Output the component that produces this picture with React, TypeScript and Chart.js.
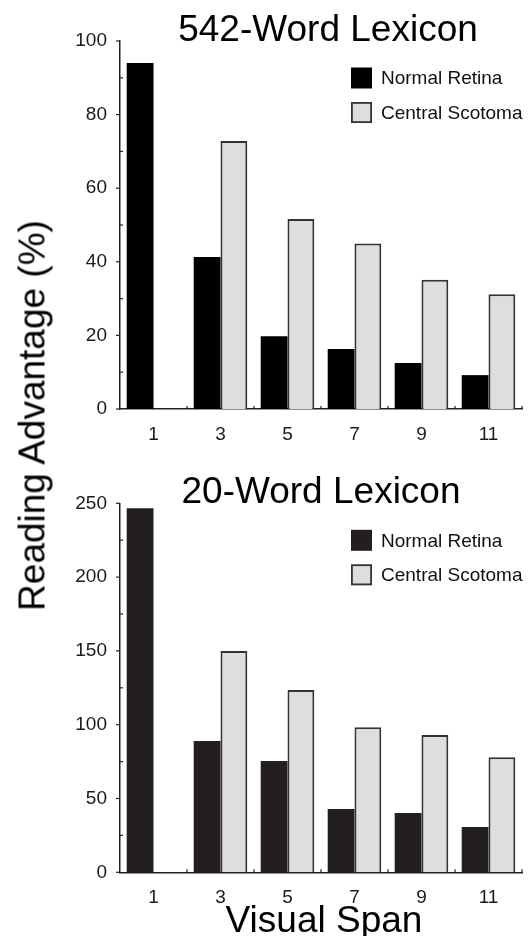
import React, { useEffect, useRef } from 'react';
import { Chart, registerables } from 'chart.js';
Chart.register(...registerables);

const spans = ['1', '3', '5', '7', '9', '11'];
const seriesNames = ['Normal Retina', 'Central Scotoma'];
const normal542 = [94.0, 41.3, 19.8, 16.3, 12.5, 9.2];
const scotoma542 = [null, 72.8, 51.6, 45.0, 35.1, 31.2];
const normal20 = [246.6, 89.0, 75.4, 42.9, 40.2, 30.7];
const scotoma20 = [null, 150.0, 123.5, 98.2, 93.0, 77.9];
const ticks542 = [0, 20, 40, 60, 80, 100];
const ticks20 = [0, 50, 100, 150, 200, 250];
const titles = ['542-Word Lexicon', '20-Word Lexicon'];
const yLabel = 'Reading Advantage (%)';
const xLabel = 'Visual Span';

const FONT = '"Liberation Sans", Arial, Helvetica, sans-serif';

const overlayPlugin = {
  id: 'overlay',
  afterDraw(chart: any, _args: any, opts: any) {
    const { ctx, chartArea, scales } = chart;
    const xs = scales.x;
    const ys = scales.y;
    const L = chartArea.left, R = chartArea.right, T = chartArea.top, B = chartArea.bottom;
    ctx.save();
    ctx.strokeStyle = '#222';
    ctx.lineWidth = 1.2;
    const line = (x1: number, y1: number, x2: number, y2: number) => {
      ctx.beginPath();
      ctx.moveTo(x1, y1);
      ctx.lineTo(x2, y2);
      ctx.stroke();
    };
    const tv = ys.ticks.map((t: any) => t.value);
    tv.forEach((v: number) => {
      const py = ys.getPixelForValue(v);
      line(L - 4, py, L, py);
    });
    for (let i = 0; i < tv.length - 1; i++) {
      const py = ys.getPixelForValue((tv[i] + tv[i + 1]) / 2);
      line(L, py, L + 3, py);
    }
    const n = chart.data.labels.length;
    for (let i = 1; i <= n; i++) {
      const px = i < n ? (xs.getPixelForValue(i - 1) + xs.getPixelForValue(i)) / 2 : R;
      line(px, B, px, B - 3);
    }
    // title
    ctx.fillStyle = '#000';
    ctx.textBaseline = 'alphabetic';
    ctx.textAlign = 'center';
    ctx.font = `37px ${FONT}`;
    ctx.fillText(opts.title, (L + R) / 2 + opts.titleDx, T);
    // legend
    const ds = chart.data.datasets;
    ctx.textAlign = 'left';
    ctx.font = `19px ${FONT}`;
    ds.forEach((d: any, i: number) => {
      const by = T + 26.5 + i * 34.5;
      const bx = R - 171;
      ctx.fillStyle = d.backgroundColor;
      ctx.fillRect(bx, by, 21, 21);
      if (d.borderWidth) {
        ctx.strokeStyle = d.borderColor;
        ctx.lineWidth = 1.8;
        ctx.strokeRect(bx + 0.9, by + 0.9, 19.2, 19.2);
      }
      ctx.fillStyle = '#111';
      ctx.fillText(d.label, R - 141, by + 16.8);
    });
    if (opts.xTitle) {
      ctx.fillStyle = '#000';
      ctx.textAlign = 'center';
      ctx.font = `37px ${FONT}`;
      ctx.fillText(opts.xTitle, (L + R) / 2 + 3, chart.height - 4);
    }
    ctx.restore();
  },
};

type PanelProps = {
  title: string;
  normal: (number | null)[];
  scotoma: (number | null)[];
  ticks: number[];
  normalColor: string;
  height: number;
  padTop: number;
  xHeight: number;
  titleDx: number;
  xTitle?: string;
};

function Panel(p: PanelProps) {
  const ref = useRef<HTMLCanvasElement | null>(null);
  useEffect(() => {
    if (!ref.current) return;
    const chart = new Chart(ref.current, {
      type: 'bar',
      data: {
        labels: spans,
        datasets: [
          {
            label: seriesNames[0],
            data: p.normal,
            backgroundColor: p.normalColor,
            borderWidth: 0,
            categoryPercentage: 0.8,
            barPercentage: 1.0,
          },
          {
            label: seriesNames[1],
            data: p.scotoma,
            backgroundColor: '#dedede',
            borderColor: '#333333',
            borderWidth: 2,
            categoryPercentage: 0.8,
            barPercentage: 1.0,
          },
        ],
      } as any,
      options: {
        responsive: false,
        animation: false,
        devicePixelRatio: 1,
        layout: { padding: { top: p.padTop, right: 8, left: 0, bottom: 0 } },
        plugins: {
          legend: { display: false },
          tooltip: { enabled: false },
          title: { display: false },
          overlay: { title: p.title, titleDx: p.titleDx, xTitle: p.xTitle },
        } as any,
        scales: {
          x: {
            grid: { display: false },
            border: { display: true, color: '#222', width: 1.5 },
            ticks: { color: '#1a1a1a', font: { size: 19, family: FONT }, padding: 6, maxRotation: 0 },
            afterFit: (s: any) => {
              s.height = p.xHeight;
            },
          },
          y: {
            min: p.ticks[0],
            max: p.ticks[p.ticks.length - 1],
            grid: { display: false },
            border: { display: true, color: '#222', width: 1.5 },
            ticks: {
              stepSize: p.ticks[1] - p.ticks[0],
              color: '#1a1a1a',
              font: { size: 19, family: FONT },
              padding: 5,
            },
            afterFit: (s: any) => {
              s.width = 120;
            },
          },
        },
      },
      plugins: [overlayPlugin as any],
    });
    return () => chart.destroy();
  }, []);
  return <canvas ref={ref} width={530} height={p.height} style={{ display: 'block', width: 530, height: p.height }} />;
}

export default function App() {
  useEffect(() => {
    document.body.style.margin = '0';
  }, []);
  const yLabelW = 500;
  const lh = 37;
  return (
    <div style={{ position: 'relative', width: 530, height: 936, overflow: 'hidden', background: '#fff' }}>
      <div style={{ position: 'absolute', left: 0, top: 0 }}>
        <Panel
          title={titles[0]}
          normal={normal542}
          scotoma={scotoma542}
          ticks={ticks542}
          normalColor="#000000"
          height={460}
          padTop={41}
          xHeight={51}
          titleDx={7}
        />
      </div>
      <div style={{ position: 'absolute', left: 0, top: 460 }}>
        <Panel
          title={titles[1]}
          normal={normal20}
          scotoma={scotoma20}
          ticks={ticks20}
          normalColor="#231f20"
          height={476}
          padTop={43.3}
          xHeight={63.7}
          titleDx={0}
          xTitle={xLabel}
        />
      </div>
      <div
        style={{
          position: 'absolute',
          left: 32.2 - yLabelW / 2,
          top: 415 - lh / 2,
          width: yLabelW,
          height: lh,
          lineHeight: `${lh}px`,
          fontSize: 37,
          fontFamily: FONT,
          color: '#000',
          textAlign: 'center',
          whiteSpace: 'nowrap',
          transform: 'rotate(-90deg)',
        }}
      >
        {yLabel}
      </div>
    </div>
  );
}
